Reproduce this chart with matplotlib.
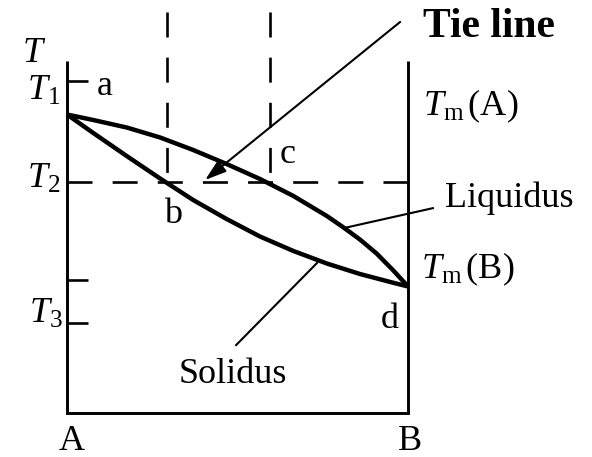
import matplotlib
matplotlib.use("Agg")
import matplotlib.pyplot as plt
from matplotlib.patches import FancyArrowPatch

plt.rcParams["font.family"] = ["Liberation Serif", "DejaVu Serif"]
plt.rcParams["mathtext.fontset"] = "custom"
plt.rcParams["mathtext.rm"] = "Liberation Serif"
plt.rcParams["mathtext.it"] = "Liberation Serif:italic"
plt.rcParams["mathtext.bf"] = "Liberation Serif:bold"
plt.rcParams["lines.scale_dashes"] = False

# Composition (0 = pure A, 1 = pure B) and temperature (arbitrary units)
liquidus_x = [0.0, 0.077, 0.175, 0.273, 0.370, 0.468, 0.566, 0.664, 0.762,
              0.809, 0.859, 0.908, 0.957, 1.0]
liquidus_T = [84.8, 83.24, 81.11, 78.27, 74.72, 70.74, 66.48, 61.65, 55.97,
              52.84, 49.29, 45.31, 40.48, 35.94]

solidus_x = [0.0, 0.077, 0.175, 0.273, 0.370, 0.468, 0.566, 0.664, 0.762,
             0.859, 0.957, 1.0]
solidus_T = [84.8, 79.55, 73.01, 66.62, 60.51, 55.11, 50.14, 46.02, 42.47,
             39.49, 36.99, 35.94]

T_top = 100.0          # top of the two composition axes
T1, T2, T3 = 94.3, 65.6, 25.6
T_extra_tick = 37.8
tick_T = [T1, T_extra_tick, T3]
x_b, x_c = 0.293, 0.595   # tie-line ends on solidus / liquidus at T2
T_dash_top = 113.9

fig = plt.figure(figsize=(5.92, 4.57), dpi=100)
ax = fig.add_axes([0, 0, 1, 1])
ax.set_xlim(-67 / 341, 525 / 341)
ax.set_ylim(-44 / 3.52, 413 / 3.52)
ax.axis("off")

k = "black"
# frame: left axis, bottom, right axis
ax.plot([0, 0, 1, 1], [T_top, 0, 0, T_top], color=k, lw=2.1,
        solid_joinstyle="miter", solid_capstyle="butt")
# temperature ticks on the A axis
for t in tick_T:
    ax.plot([0, 0.062], [t, t], color=k, lw=1.9, solid_capstyle="butt")

# dashed tie line at T2 and composition guides
dash = (18, 14.5)
ax.plot([0, 1], [T2, T2], color=k, lw=1.9, dashes=dash, dash_capstyle="butt")
for xv in (x_b, x_c):
    ax.plot([xv, xv], [T_dash_top, T2], color=k, lw=1.9, dashes=dash,
            dash_capstyle="butt")

# liquidus and solidus curves
ax.plot(liquidus_x, liquidus_T, color=k, lw=3.2, solid_joinstyle="round",
        solid_capstyle="butt")
ax.plot(solidus_x, solidus_T, color=k, lw=3.2, solid_joinstyle="round",
        solid_capstyle="butt")

# leader lines for the curve names
ax.plot([1.073, 0.815], [58.2, 52.6], color=k, lw=1.5)
ax.plot([0.496, 0.733], [19.3, 42.6], color=k, lw=1.5)

# arrow pointing to the tie line
arrow = FancyArrowPatch((0.977, 111.1), (0.405, 66.2),
                        arrowstyle="-|>,head_length=13,head_width=4.2",
                        mutation_scale=1, color=k, lw=1.5, shrinkA=0, shrinkB=0)
ax.add_patch(arrow)

fs = 26
ax.text(1.044, 106.8, "Tie line", fontsize=30, fontweight="bold",
        ha="left", va="baseline")

ax.text(-0.097, 99.7, "$T$", fontsize=fs, ha="center", va="baseline")
ax.text(-0.117, 88.9, "$T_1$", fontsize=fs, ha="left", va="baseline")
ax.text(-0.117, 63.9, "$T_2$", fontsize=fs, ha="left", va="baseline")
ax.text(-0.111, 25.6, "$T_3$", fontsize=fs, ha="left", va="baseline")

ax.text(0.088, 90.3, "a", fontsize=fs, ha="left", va="baseline")
ax.text(0.311, 54.0, "b", fontsize=fs, ha="center", va="baseline")
ax.text(0.647, 71.0, "c", fontsize=fs, ha="center", va="baseline")
ax.text(0.947, 24.1, "d", fontsize=fs, ha="center", va="baseline")

ax.text(0.013, -10.6, "A", fontsize=fs, ha="center", va="baseline")
ax.text(1.006, -10.6, "B", fontsize=fs, ha="center", va="baseline")

ax.text(1.108, 58.5, "Liquidus", fontsize=fs, ha="left", va="baseline")
ax.text(0.326, 8.5, "Solidus", fontsize=fs, ha="left", va="baseline")

ax.text(1.044, 84.7, r"$T_{\mathrm{m}}\,$(A)", fontsize=fs, ha="left", va="baseline")
ax.text(1.038, 38.4, r"$T_{\mathrm{m}}\,$(B)", fontsize=fs, ha="left", va="baseline")

fig.savefig("out.png", dpi=100, facecolor="white")
